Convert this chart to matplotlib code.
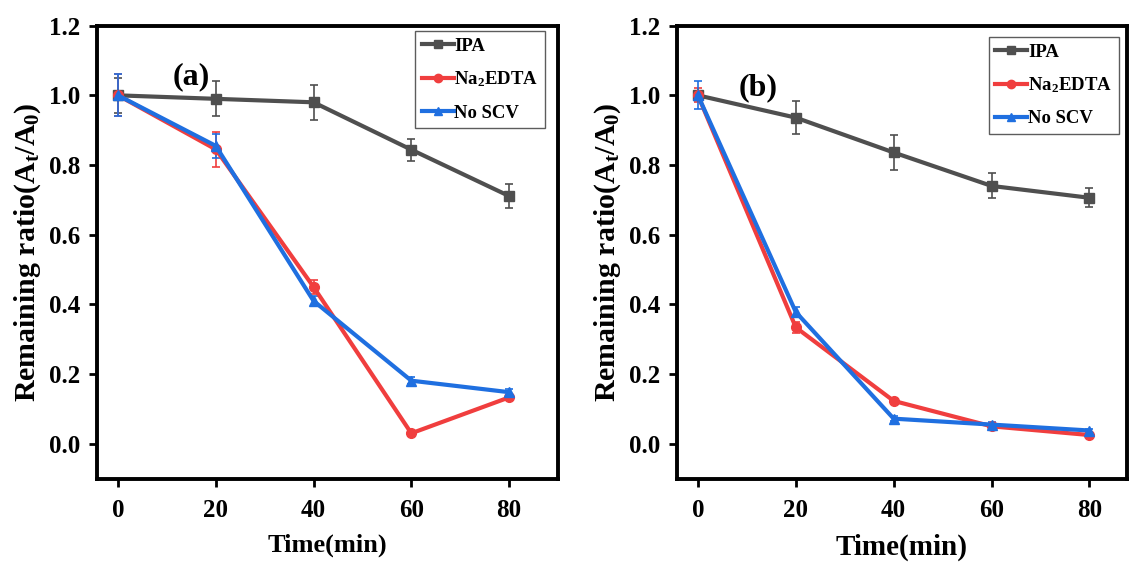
import matplotlib
matplotlib.use("Agg")
import matplotlib.pyplot as plt
from matplotlib.lines import Line2D

plt.rcParams['font.family'] = ['Liberation Serif', 'DejaVu Serif']
plt.rcParams['font.weight'] = 'bold'
plt.rcParams['mathtext.fontset'] = 'custom'
plt.rcParams['mathtext.rm'] = 'Liberation Serif:bold'
plt.rcParams['mathtext.it'] = 'Liberation Serif:bold'
plt.rcParams['mathtext.bf'] = 'Liberation Serif:bold'

time = [0, 20, 40, 60, 80]
series_names = ["IPA", "Na$_2$EDTA", "No SCV"]

# panel (a)
a_ipa = [1.00, 0.99, 0.98, 0.844, 0.711]
a_ipa_err = [0.05, 0.05, 0.05, 0.032, 0.035]
a_edta = [1.00, 0.845, 0.45, 0.03, 0.133]
a_edta_err = [0.06, 0.05, 0.02, 0.008, 0.008]
a_noscv = [1.00, 0.855, 0.41, 0.181, 0.148]
a_noscv_err = [0.06, 0.035, 0.015, 0.01, 0.008]

# panel (b)
b_ipa = [1.00, 0.936, 0.836, 0.74, 0.706]
b_ipa_err = [0.01, 0.047, 0.05, 0.036, 0.027]
b_edta = [1.00, 0.334, 0.123, 0.05, 0.025]
b_edta_err = [0.02, 0.015, 0.008, 0.006, 0.005]
b_noscv = [1.00, 0.378, 0.072, 0.055, 0.038]
b_noscv_err = [0.04, 0.015, 0.008, 0.006, 0.005]

colors = ["#4f4f4f", "#f03e3e", "#1f6fe0"]
markers = ["s", "o", "^"]

fig = plt.figure(figsize=(11.3, 5.69), dpi=100)
ax1 = fig.add_axes([0.0858, 0.1589, 0.408, 0.796])
ax2 = fig.add_axes([0.599, 0.1589, 0.398, 0.796])

panels = [
    (ax1, [a_ipa, a_edta, a_noscv], [a_ipa_err, a_edta_err, a_noscv_err], "(a)", (-4.3, 90), (0.204, 0.887), 19,
     (0.972, 0.988)),
    (ax2, [b_ipa, b_edta, b_noscv], [b_ipa_err, b_edta_err, b_noscv_err], "(b)", (-4.3, 87.6), (0.18, 0.863), 21,
     (0.982, 0.975)),
]

for ax, ys, errs, tag, xl, tagpos, xfs, legpos in panels:
    handles = []
    for y, e, c, m, n in zip(ys, errs, colors, markers, series_names):
        ax.errorbar(time, y, yerr=e, color=c, marker=m, markersize=7, lw=3.0,
                    elinewidth=1.2, capsize=3, capthick=1.2)
        handles.append(Line2D([], [], color=c, marker=m, markersize=6, lw=3.0, label=n))
    ax.set_xlim(*xl)
    ax.set_ylim(-0.1, 1.2)
    ax.set_xticks(time)
    ax.set_yticks([0.0, 0.2, 0.4, 0.6, 0.8, 1.0, 1.2])
    ax.set_yticklabels(["0.0", "0.2", "0.4", "0.6", "0.8", "1.0", "1.2"])
    ax.tick_params(axis='both', direction='out', length=6, width=2, labelsize=18)
    ax.tick_params(axis='x', pad=9)
    ax.tick_params(axis='y', pad=6)
    for lab in ax.get_xticklabels() + ax.get_yticklabels():
        lab.set_fontweight('bold')
    for s in ax.spines.values():
        s.set_linewidth(2.8)
    ax.set_xlabel("Time(min)", fontsize=xfs, fontweight='bold', labelpad=8)
    ax.set_ylabel("Remaining ratio(A$_t$/A$_0$)", fontsize=21.5, fontweight='bold', labelpad=4)
    ax.text(tagpos[0], tagpos[1], tag, transform=ax.transAxes, fontsize=23,
            fontweight='bold', ha='center', va='center')
    leg = ax.legend(handles=handles, loc='upper right', bbox_to_anchor=legpos, fontsize=13.5,
                    frameon=True, fancybox=False, edgecolor='#333333', handlelength=1.7,
                    handletextpad=0.05, borderpad=0.35, labelspacing=0.8, borderaxespad=0.0)
    leg.get_frame().set_linewidth(1.0)
    for t in leg.get_texts():
        t.set_fontweight('bold')

fig.savefig("out.png", dpi=100)
